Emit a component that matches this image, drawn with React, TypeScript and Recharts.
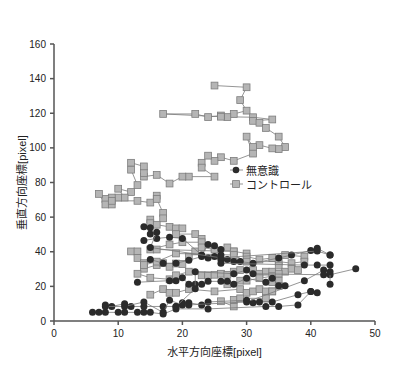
import { ScatterChart, Scatter, XAxis, YAxis, Legend } from 'recharts'

type Pt = [number, number]

// 無意識 (black circles) – trajectories
const unc1: Pt[] = [[6, 5], [7, 5], [8, 5], [10, 5], [11, 5], [13, 5], [14, 5], [15, 5], [17, 4], [19, 7], [24, 7], [33, 8.4], [35, 8.4], [38, 9.3], [40, 17], [41, 16.3]]
const unc2: Pt[] = [[8, 9.3], [9, 8.4], [11, 10], [12, 8.4], [14, 8.4], [17, 8.4], [19, 8.4], [20, 10.5], [21, 10.5], [23, 9.3], [24, 11], [30, 12], [31, 10.5], [32, 11], [34, 11], [38, 15.2], [40, 17]]
const unc3: Pt[] = [[8, 8.4], [11, 8.4], [14, 11], [17, 5], [18, 12], [20, 9.3], [21, 9.3], [30, 11], [39, 23.3], [42, 29.4]]
const unc4: Pt[] = [[13, 22.4], [18, 23.3], [19, 23.3], [20, 25], [21, 21.2], [22, 21.2], [23, 21.2], [24, 22.9], [26, 22.9], [27, 22.9], [28, 21.2], [30, 24.7], [33, 22.4], [34, 24.7], [35, 20.3], [36, 20.3]]
const unc5: Pt[] = [[19, 8.4], [22, 18.7], [22, 28.5], [28, 27.3], [30, 29.4], [31, 27.3], [42, 26.7], [43, 26.7], [47, 30.2]]
const unc6: Pt[] = [[15, 35.5], [17, 33.4], [19, 33.4], [21, 35.1], [23, 37.2], [24, 36.4], [25, 37.2], [26, 35.5], [27, 35.5], [28, 34.3], [29, 34.3], [31, 33.4], [35, 36.4], [37, 38.1], [40, 40.7], [41, 42], [43, 38.1]]
const unc7: Pt[] = [[14, 46.5], [16, 47.7], [18, 48.4], [20, 47.7], [23, 38.1], [24, 44.2], [25, 43.4], [26, 41.3], [26, 38.1], [26, 33.4], [39, 32.3], [41, 32.3], [43, 32.3], [43, 28.5], [43, 21.2]]
const unc8: Pt[] = [[14, 54.4], [15, 53.8], [15, 50.3], [16, 51.2], [15, 42.5], [26, 36.5], [41, 40.4], [43, 38.1]]

// コントロール (grey squares) – trajectories
const ctl1: Pt[] = [[25, 136], [30, 135], [29, 127.6], [30, 121.5], [28, 119.6], [27, 117.8], [26, 118.7], [24, 117.8], [22, 119.6], [17, 119.6], [26, 118], [31, 117.7], [34, 116.4], [31, 115.6], [32, 114.5], [33, 111.5], [35, 106.5], [36, 100.5], [35, 99.3], [34, 99.7], [32, 101.6], [31, 100.5], [30, 106.5], [31, 96.7], [28, 92.5], [26, 94.6], [25, 92.5], [24, 95.5], [23, 91.4], [23, 88.6], [25, 83.4], [21, 83.4], [20, 83.4], [18, 79.4], [16, 84.4], [14, 83.4], [14, 85.5], [14, 89.3], [12, 91.4], [12, 87.4], [13, 78.5], [12, 74.5], [10, 76.4], [11, 71.3], [10, 71.3], [9, 71.3], [8, 70.5], [7, 73.4], [8, 67.3], [9, 67.3], [9, 69.4], [13, 69.4], [15, 68.4], [16, 72.4], [16, 70.5], [17, 62.4], [17, 59.3]]
const ctl2: Pt[] = [[15, 58.6], [15, 56.5], [16, 55.6], [18, 54.4], [19, 53.5], [20, 53.5], [19, 50.2], [22, 50.2], [23, 47.4], [23, 45.5], [20, 45.5], [18, 44.2], [15, 41.3], [16, 41.3], [28, 40.2]]
const ctl3: Pt[] = [[12, 40.2], [13, 40.2], [13, 36.4], [14, 33.4], [14, 30.2], [16, 32.3], [17, 33.4], [18, 31.3], [19, 33.2], [20, 32.9], [21, 37.2], [22, 40.2], [23, 42.5], [25, 41.3], [27, 42.5], [28, 40.2], [30, 39], [30, 37.2], [32, 35.5], [34, 36.4], [36, 38.1], [39, 37.2]]
const ctl4: Pt[] = [[14, 32.3], [16, 34.3], [19, 39], [28, 38.1], [30, 34.3], [35, 34.3], [37, 33.4], [39, 34.3]]
const ctl5: Pt[] = [[13, 27.3], [15, 25], [18, 24.1], [19, 26.4], [21, 28.5], [23, 26.4], [24, 26.4], [25, 26.7], [26, 27.3], [27, 26.7], [28, 28.5], [29, 29.4], [31, 29.4], [32, 27.3], [33, 28.5], [34, 28.5], [35, 32], [36, 28.5], [37, 30.2], [38, 29.4]]
const ctl6: Pt[] = [[27, 21.2], [29, 23.3], [30, 23.3], [32, 24.7], [34, 25.9], [35, 27.3], [35, 23.3], [34, 22.4]]
const ctl7: Pt[] = [[15, 15.2], [17, 18.4], [18, 16.3], [19, 16.3], [21, 18.4], [25, 17.1], [29, 18.4], [30, 16.3], [31, 17.1], [32, 18.4], [33, 17.1], [34, 17.1], [35, 20.3]]
const ctl8: Pt[] = [[26, 11.4], [28, 8.4], [28, 12.2], [29, 13.1], [33, 13.1], [34, 17.1]]

const uncPaths = [unc1, unc2, unc3, unc4, unc5, unc6, unc7, unc8]
const ctlPaths = [ctl1, ctl2, ctl3, ctl4, ctl5, ctl6, ctl7, ctl8]

const xTicks = [0, 10, 20, 30, 40, 50]
const yTicks = [0, 20, 40, 60, 80, 100, 120, 140, 160]

const LINE = '#7a7a7a'
const DOT = '#2b2b2b'
const SQ = '#b5b5b5'
const SQ_EDGE = '#7d7d7d'
const FONT = '"Liberation Sans", Arial, "Noto Sans CJK JP", sans-serif'

const toData = (p: Pt[]) => p.map(([x, y]) => ({ x, y }))

const Dot = (props: any) => <circle cx={props.cx} cy={props.cy} r={3.5} fill={DOT} />
const Square = (props: any) => (
  <rect x={props.cx - 3.4} y={props.cy - 3.4} width={6.8} height={6.8} fill={SQ} stroke={SQ_EDGE} strokeWidth={0.8} />
)

function LegendBox() {
  const row = { display: 'flex', alignItems: 'center', height: 14, fontSize: 11, color: '#222' }
  return (
    <div style={{ fontFamily: FONT }}>
      <div style={row}>
        <svg width={16} height={10}>
          <line x1={1} y1={5} x2={14} y2={5} stroke={LINE} strokeWidth={0.8} />
          <circle cx={7} cy={5} r={3.3} fill={DOT} />
        </svg>
        <span style={{ marginLeft: 1 }}>無意識</span>
      </div>
      <div style={row}>
        <svg width={16} height={10}>
          <line x1={1} y1={5} x2={14} y2={5} stroke={LINE} strokeWidth={0.8} />
          <rect x={3.6} y={1.6} width={6.8} height={6.8} fill={SQ} stroke={SQ_EDGE} strokeWidth={0.8} />
        </svg>
        <span style={{ marginLeft: 1 }}>コントロール</span>
      </div>
    </div>
  )
}

export default function App() {
  return (
    <div style={{ position: 'absolute', left: 0, top: 0, background: '#fff' }}>
      <ScatterChart width={400} height={368} margin={{ top: 16, right: 25, bottom: 0, left: 0 }}>
        <XAxis
          type="number"
          dataKey="x"
          domain={[0, 50]}
          ticks={xTicks}
          height={47}
          tickSize={4}
          tickMargin={5}
          stroke="#555"
          strokeWidth={1.5}
          tick={{ fontSize: 10, fill: '#222', fontFamily: FONT }}
          label={{ value: '水平方向座標[pixel]', position: 'insideBottom', offset: 12, fontSize: 11, fill: '#222', fontFamily: FONT }}
        />
        <YAxis
          type="number"
          dataKey="y"
          domain={[0, 160]}
          ticks={yTicks}
          width={54}
          tickSize={4}
          tickMargin={4}
          stroke="#555"
          strokeWidth={1.5}
          tick={{ fontSize: 10, fill: '#222', fontFamily: FONT }}
          label={{ value: '垂直方向座標[pixel]', angle: -90, position: 'insideLeft', offset: 22, fontSize: 11, fill: '#222', fontFamily: FONT, style: { textAnchor: 'middle' } }}
        />
        <Legend
          verticalAlign="top"
          align="left"
          wrapperStyle={{ left: 229, top: 163, width: 110 }}
          content={() => <LegendBox />}
        />
        {ctlPaths.map((p, i) => (
          <Scatter
            key={'c' + i}
            name="コントロール"
            data={toData(p)}
            line={{ stroke: LINE, strokeWidth: 0.8 }}
            lineType="joint"
            shape={Square}
            isAnimationActive={false}
          />
        ))}
        {uncPaths.map((p, i) => (
          <Scatter
            key={'u' + i}
            name="無意識"
            data={toData(p)}
            line={{ stroke: LINE, strokeWidth: 0.8 }}
            lineType="joint"
            shape={Dot}
            isAnimationActive={false}
          />
        ))}
      </ScatterChart>
    </div>
  )
}
